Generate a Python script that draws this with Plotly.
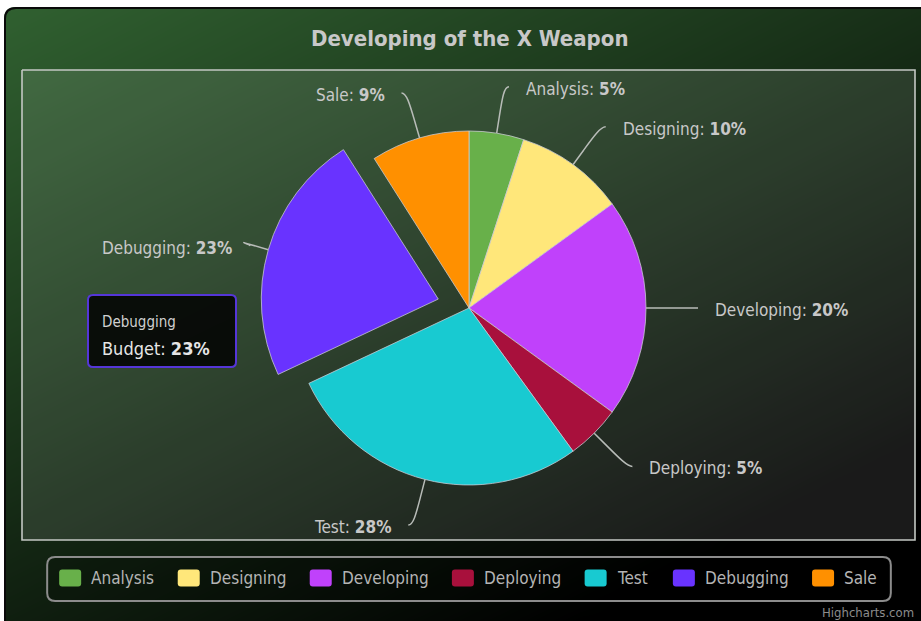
import numpy as np
import plotly.graph_objects as go

# ---------------- data ----------------
categories = ["Analysis", "Designing", "Developing", "Deploying", "Test", "Debugging", "Sale"]
shares = [5, 10, 20, 5, 28, 23, 9]
slice_colors = ["#68b04a", "#ffe77a", "#c041fb", "#a8103c", "#18cad1", "#6933ff", "#ff9000"]
sliced_category = "Debugging"
series_name = "Budget"
title_text = "Developing of the X Weapon"
credit_text = "Highcharts.com"

# ---------------- layout constants ----------------
W, H = 921, 621
CX, CY, R = 469, 308, 177          # pie centre / radius in px
PULL_PX = 32
FONT = "DejaVu Sans Condensed"
TXT = "#c8c8c8"

total = float(sum(shares))
pct = [round(v / total * 100) for v in shares]
pulls = [PULL_PX / R if c == sliced_category else 0 for c in categories]
half = R * (1 + max(pulls))

fig = go.Figure()

# background gradient (Highcharts dark-green theme style)
gx = np.linspace(0, W, 47)
gy = np.linspace(0, H, 33)
GX, GY = np.meshgrid(gx, gy)
VX, VY = 360.0, 720.0
bg_t = np.clip(((GX - 5) * VX + (GY - 8) * VY) / (VX ** 2 + VY ** 2), 0, 1)
fig.add_trace(go.Heatmap(x=gx, y=gy, z=bg_t, zmin=0, zmax=1, zsmooth="best",
                         colorscale=[[0, "rgb(48,96,48)"], [1, "rgb(0,0,0)"]],
                         showscale=False, hoverinfo="skip"))

# plot area (translucent white) with border
PX0, PY0, PX1, PY1 = 22, 70, 915, 540
fig.add_trace(go.Scatter(x=[PX0, PX1, PX1, PX0, PX0], y=[PY0, PY0, PY1, PY1, PY0],
                         mode="lines", fill="toself", fillcolor="rgba(255,255,255,0.1)",
                         line=dict(color="#c4c8c4", width=1.6), hoverinfo="skip",
                         showlegend=False))

# pie
fig.add_trace(go.Pie(
    labels=categories, values=shares, sort=False, direction="clockwise", rotation=0,
    marker=dict(colors=slice_colors, line=dict(color="rgba(205,205,215,0.75)", width=1)),
    pull=pulls, textinfo="none", hoverinfo="none", showlegend=False,
    domain=dict(x=[(CX - half) / W, (CX + half) / W],
                y=[(H - CY - half) / H, (H - CY + half) / H]),
))

shapes = []
annotations = []

# data labels with soft connectors
cum = 0.0
for name, v, p in zip(categories, shares, pct):
    theta = np.radians((cum + v / 2.0) / total * 360.0)
    cum += v
    ux, uy = np.sin(theta), -np.cos(theta)
    off = PULL_PX if name == sliced_category else 0
    bx, by = CX + (R + off) * ux, CY + (R + off) * uy
    sx, sy = CX + (R + off + 18) * ux, CY + (R + off + 18) * uy
    ax, ay = CX + (R + 47) * ux, CY + (R + 47) * uy
    side = 1 if ux >= 0 else -1
    ex, ey = ax + 5 * side, ay
    c2x, c2y = 2 * sx - bx, 2 * sy - by
    shapes.append(dict(type="path", xref="x", yref="y", layer="above",
                       path=f"M{ex:.1f},{ey:.1f} C{ax:.1f},{ay:.1f} {c2x:.1f},{c2y:.1f} {sx:.1f},{sy:.1f} L{bx:.1f},{by:.1f}",
                       line=dict(color="#b8bcb8", width=1.5)))
    annotations.append(dict(x=ex + 15 * side, y=ey + 2, xref="x", yref="y",
                            text=f"{name}: <b>{p}%</b>", showarrow=False,
                            xanchor="left" if side > 0 else "right", yanchor="middle",
                            font=dict(family=FONT, size=17, color=TXT)))

# title
annotations.append(dict(x=CX, y=38, xref="x", yref="y", text=f"<b>{title_text}</b>",
                        showarrow=False, xanchor="center", yanchor="middle",
                        font=dict(family=FONT, size=22, color="#c8c8c8")))

# credit
annotations.append(dict(x=916, y=612, xref="x", yref="y", text=credit_text, showarrow=False,
                        xanchor="right", yanchor="middle",
                        font=dict(family=FONT, size=13, color="#8c8c8c")))


def rrect(x0, y0, x1, y1, r):
    return (f"M{x0 + r},{y0} L{x1 - r},{y0} Q{x1},{y0} {x1},{y0 + r} L{x1},{y1 - r} "
            f"Q{x1},{y1} {x1 - r},{y1} L{x0 + r},{y1} Q{x0},{y1} {x0},{y1 - r} "
            f"L{x0},{y0 + r} Q{x0},{y0} {x0 + r},{y0} Z")


# legend (custom, Highcharts style)
CW = {'A': .684, 'D': .770, 'S': .635, 'T': .611, 'a': .613, 'b': .635, 'c': .550, 'd': .635,
      'e': .615, 'g': .635, 'i': .278, 'l': .278, 'n': .634, 'o': .612, 'p': .635, 's': .521,
      't': .392, 'u': .634, 'v': .592, 'y': .592}
LFS = 17


def text_w(s, size):
    return sum(CW.get(ch, 0.6) for ch in s) * 0.9 * size


SQ_W, SQ_H, SQ_GAP, ITEM_GAP = 22, 17, 8, 25.5
widths = [SQ_W + SQ_GAP + text_w(c, LFS) for c in categories]
legend_w = sum(widths) + ITEM_GAP * (len(widths) - 1)
lx = CX - 2 - legend_w / 2
LY = 578
shapes.append(dict(type="path", xref="x", yref="y", layer="above",
                   path=rrect(lx - 12, 557, lx + legend_w + 16, 601, 8),
                   fillcolor="rgba(0,0,0,0.2)", line=dict(color="#8c8c8c", width=2)))
for c, col, w in zip(categories, slice_colors, widths):
    shapes.append(dict(type="path", xref="x", yref="y", layer="above",
                       path=rrect(lx, LY - SQ_H / 2, lx + SQ_W, LY + SQ_H / 2, 3),
                       fillcolor=col, line=dict(width=0)))
    annotations.append(dict(x=lx + SQ_W + SQ_GAP, y=LY, xref="x", yref="y", text=c,
                            showarrow=False, xanchor="left", yanchor="middle",
                            font=dict(family=FONT, size=LFS, color="#b4b4b4")))
    lx += w + ITEM_GAP

# tooltip for the sliced point
si = categories.index(sliced_category)
shapes.append(dict(type="path", xref="x", yref="y", layer="above",
                   path=rrect(88, 295, 236, 367, 5),
                   fillcolor="rgba(5,8,5,0.92)", line=dict(color="#5536d8", width=2)))
annotations.append(dict(x=100, y=322, xref="x", yref="y", text=sliced_category, showarrow=False,
                        xanchor="left", yanchor="middle",
                        font=dict(family=FONT, size=15, color="#d0d0d0")))
annotations.append(dict(x=100, y=348, xref="x", yref="y",
                        text=f"{series_name}: <b>{pct[si]}%</b>", showarrow=False,
                        xanchor="left", yanchor="middle",
                        font=dict(family=FONT, size=18, color="#e6e6e6")))

# white page outside the rounded chart frame and the frame border
shapes.append(dict(type="path", xref="x", yref="y", layer="above",
                   path=f"M-2,-2 L{W + 2},-2 L{W + 2},7 L16,7 Q4,7 4,19 L4,{H + 2} L-2,{H + 2} Z",
                   fillcolor="white", line=dict(width=0)))
shapes.append(dict(type="path", xref="x", yref="y", layer="above",
                   path=f"M5,{H + 2} L5,19 Q5,8 16,8 L{W + 2},8",
                   line=dict(color="#0a0a0a", width=2)))

fig.update_layout(
    width=W, height=H, margin=dict(l=0, r=0, t=0, b=0),
    paper_bgcolor="white", plot_bgcolor="white",
    xaxis=dict(range=[0, W], visible=False, fixedrange=True, domain=[0, 1]),
    yaxis=dict(range=[H, 0], visible=False, fixedrange=True, domain=[0, 1]),
    showlegend=False, shapes=shapes, annotations=annotations,
)

fig.write_html("out.html", config={"displayModeBar": False},
               post_script="document.body.style.margin='0';document.body.style.overflow='hidden';")
